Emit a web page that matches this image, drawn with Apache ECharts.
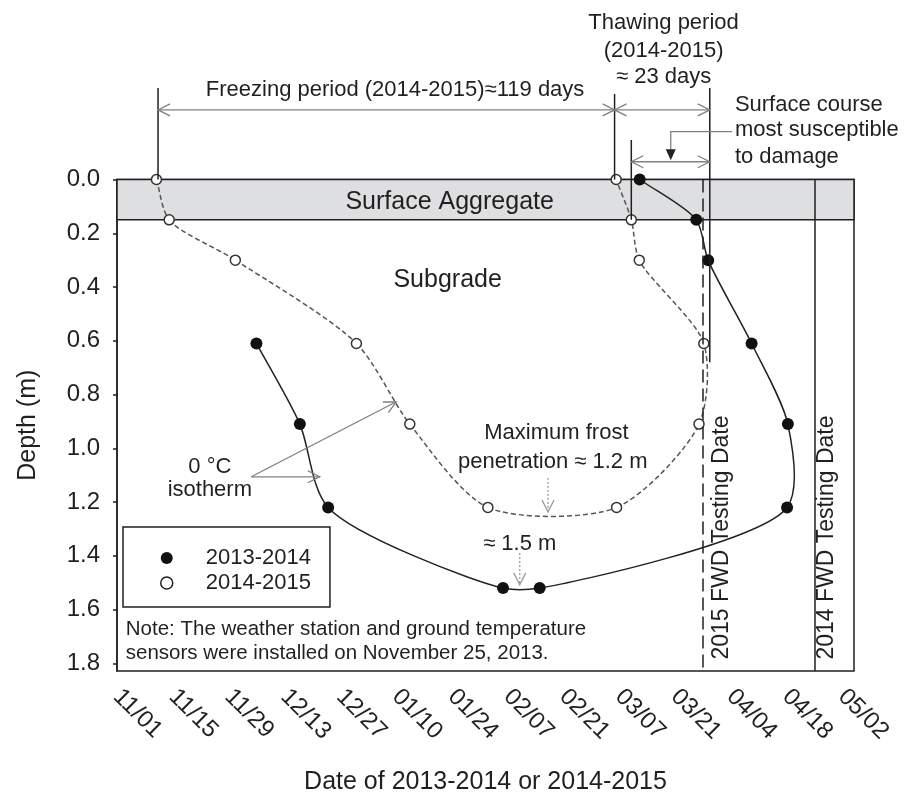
<!DOCTYPE html>
<html>
<head>
<meta charset="utf-8">
<script src="https://cdn.jsdelivr.net/npm/echarts@6/dist/echarts.min.js"></script>
<style>
  html, body { margin: 0; padding: 0; background: #fff; }
  #chart { width: 907px; height: 793px; }
</style>
</head>
<body>
<div id="chart"></div>
<script>
// Frost depth (0 °C isotherm) over the winter.
// x: days counted from 1 November, y: depth below the surface in metres.
const dateTicks = ['11/01', '11/15', '11/29', '12/13', '12/27', '01/10', '01/24',
                   '02/07', '02/21', '03/07', '03/21', '04/04', '04/18', '05/02'];
const depthTicks = [0.0, 0.2, 0.4, 0.6, 0.8, 1.0, 1.2, 1.4, 1.6, 1.8];

// 2013-2014 winter (sensors installed 25 Nov 2013)
const days1314 = [35.0, 45.9, 53.0, 96.9, 106.1, 168.2, 168.4, 159.3, 148.4, 145.4, 131.2];
const depth1314 = [0.61, 0.91, 1.22, 1.52, 1.52, 1.22, 0.91, 0.61, 0.30, 0.15, 0.00];

// 2014-2015 winter
const days1415 = [9.9, 13.1, 29.7, 60.1, 73.5, 93.1, 125.4, 146.1, 147.3, 131.1, 129.1, 125.3];
const depth1415 = [0.00, 0.15, 0.30, 0.61, 0.91, 1.22, 1.22, 0.91, 0.61, 0.30, 0.15, 0.00];

// Surface aggregate layer (m) and FWD testing dates (days from 1 Nov)
const aggregateLayer = [0.0, 0.15];
const fwdDay2015 = 147.1;
const fwdDay2014 = 175.1;

// Key dates of the 2014-2015 freeze / thaw cycle (days from 1 Nov)
const freezeStart = 10.3;
const thawStart = 124.9;
const thawEnd = 148.8;
const surfaceThaw = 129.1;

const FONT = "'Liberation Sans', Arial, sans-serif";
const INK = '#231f20';
const GREY = '#808080';

const weekTicks = [];
for (let d = 0; d <= 182; d += 7) weekTicks.push(d);
const labelDays = dateTicks.map((_, i) => i * 14);

// Centripetal Catmull-Rom segment i -> i+1 through screen points, as a cubic Bezier.
function splineSegment(pts, i, tension) {
  const n = pts.length;
  const p1 = pts[i], p2 = pts[i + 1];
  const p0 = i > 0 ? pts[i - 1] : [2 * p1[0] - p2[0], 2 * p1[1] - p2[1]];
  const p3 = i + 2 < n ? pts[i + 2] : [2 * p2[0] - p1[0], 2 * p2[1] - p1[1]];
  const knot = (a, b) => Math.max(Math.sqrt(Math.hypot(b[0] - a[0], b[1] - a[1])), 1e-6);
  const d01 = knot(p0, p1), d12 = knot(p1, p2), d23 = knot(p2, p3);
  const m1 = [0, 1].map(k => d12 * ((p1[k] - p0[k]) / d01 - (p2[k] - p0[k]) / (d01 + d12) + (p2[k] - p1[k]) / d12));
  const m2 = [0, 1].map(k => d12 * ((p2[k] - p1[k]) / d12 - (p3[k] - p1[k]) / (d12 + d23) + (p3[k] - p2[k]) / d23));
  return {
    x1: p1[0], y1: p1[1], x2: p2[0], y2: p2[1],
    cpx1: p1[0] + tension * m1[0] / 3, cpy1: p1[1] + tension * m1[1] / 3,
    cpx2: p2[0] - tension * m2[0] / 3, cpy2: p2[1] - tension * m2[1] / 3
  };
}
function curveRenderer(days, depths, lineStyle) {
  return function (params, api) {
    const i = params.dataIndex;
    if (i >= days.length - 1) return null;
    const pts = days.map((d, k) => api.coord([d, depths[k]]));
    return {
      type: 'bezierCurve',
      shape: splineSegment(pts, i, 0.8),
      style: Object.assign({ fill: null }, lineStyle)
    };
  };
}

const chart = echarts.init(document.getElementById('chart'), null, { renderer: 'canvas' });

const option = {
  animation: false,
  backgroundColor: '#fff',
  textStyle: { fontFamily: FONT, color: INK },
  grid: {
    left: 117, right: 53, top: 179.5, bottom: 122,
    containLabel: false, outerBoundsMode: 'none',
    show: true, borderColor: INK, borderWidth: 1.5, backgroundColor: 'transparent'
  },
  legend: {
    orient: 'vertical',
    left: 123, top: 527,
    padding: [20, 19, 13, 37],
    itemGap: 3,
    itemWidth: 68, itemHeight: 12,
    borderColor: INK, borderWidth: 1.5, backgroundColor: '#fff',
    selectedMode: false,
    textStyle: { fontSize: 22, color: INK, fontFamily: FONT },
    data: [
      { name: '2013-2014', icon: 'circle', itemStyle: { color: '#111' } },
      { name: '2014-2015', icon: 'circle', itemStyle: { color: '#fff', borderColor: '#222', borderWidth: 1.5 } }
    ]
  },
  xAxis: {
    type: 'value', min: 0, max: 185,
    name: 'Date of 2013-2014 or 2014-2015',
    nameLocation: 'middle', nameGap: 99,
    nameTextStyle: { fontSize: 25, color: INK, fontFamily: FONT },
    axisLine: { show: true, lineStyle: { color: INK, width: 1.5 } },
    axisTick: { show: true, length: 5, customValues: weekTicks, lineStyle: { color: INK, width: 1.5 } },
    axisLabel: {
      customValues: labelDays,
      formatter: v => dateTicks[Math.round(v / 14)],
      rotate: -45, align: 'left', verticalAlign: 'middle', margin: 22,
      fontSize: 24, color: INK, fontFamily: FONT
    },
    splitLine: { show: false }
  },
  yAxis: {
    type: 'value', inverse: true, min: 0, max: 1.8285,
    name: 'Depth (m)',
    nameLocation: 'middle', nameGap: 76, nameRotate: 90,
    nameTextStyle: { fontSize: 25, color: INK, fontFamily: FONT },
    axisLine: { show: true, lineStyle: { color: INK, width: 1.5 } },
    axisTick: { show: true, length: 4, customValues: depthTicks, lineStyle: { color: INK, width: 1.5 } },
    axisLabel: {
      customValues: depthTicks,
      formatter: v => v.toFixed(1),
      margin: 17, fontSize: 24, color: INK, fontFamily: FONT
    },
    splitLine: { show: false }
  },
  series: [
    {
      // reference layers: aggregate band and FWD testing dates
      type: 'line', name: 'layers', data: [], silent: true, z: 1,
      markArea: {
        silent: true,
        itemStyle: { color: '#dedfe1', borderColor: INK, borderWidth: 1.5 },
        data: [[{ yAxis: aggregateLayer[0] }, { yAxis: aggregateLayer[1] }]]
      },
      markLine: {
        silent: true, symbol: ['none', 'none'], label: { show: false },
        emphasis: { disabled: true },
        data: [
          { xAxis: fwdDay2015, lineStyle: { color: INK, width: 1.5, type: [13, 6] } },
          { xAxis: fwdDay2014, lineStyle: { color: INK, width: 1.5, type: 'solid' } }
        ]
      }
    },
    {
      // smooth isotherm curves
      type: 'custom', name: 'curve 2014-2015', coordinateSystem: 'cartesian2d', z: 2, silent: true,
      data: days1415.map((d, i) => [d, depth1415[i]]),
      renderItem: curveRenderer(days1415, depth1415, { stroke: '#555', lineWidth: 1.5, lineDash: [5, 3] })
    },
    {
      type: 'custom', name: 'curve 2013-2014', coordinateSystem: 'cartesian2d', z: 2, silent: true,
      data: days1314.map((d, i) => [d, depth1314[i]]),
      renderItem: curveRenderer(days1314, depth1314, { stroke: '#222', lineWidth: 1.5 })
    },
    {
      type: 'line', name: '2014-2015', z: 3,
      data: days1415.map((d, i) => [d, depth1415[i]]),
      symbol: 'circle', symbolSize: 10,
      itemStyle: { color: '#fff', borderColor: '#333', borderWidth: 1.5 },
      lineStyle: { opacity: 0 },
      emphasis: { disabled: true }
    },
    {
      type: 'line', name: '2013-2014', z: 4,
      data: days1314.map((d, i) => [d, depth1314[i]]),
      symbol: 'circle', symbolSize: 12,
      itemStyle: { color: '#111' },
      lineStyle: { opacity: 0 },
      emphasis: { disabled: true }
    }
  ]
};

chart.setOption(option);

// ---- annotations, placed in axis units through the grid's own scales ----
const P = (d, m) => chart.convertToPixel({ gridIndex: 0 }, [d, m]);
const G = [];

function seg(a, b, stroke, width, dash) {
  G.push({
    type: 'line', z: 50, silent: true,
    shape: { x1: a[0], y1: a[1], x2: b[0], y2: b[1] },
    style: { stroke: stroke, lineWidth: width, lineDash: dash || null }
  });
}
function chevron(tip, from, stroke) {
  const dx = tip[0] - from[0], dy = tip[1] - from[1];
  const len = Math.hypot(dx, dy), ux = dx / len, uy = dy / len;
  const L = 12, W = 6;
  const bx = tip[0] - ux * L, by = tip[1] - uy * L;
  G.push({
    type: 'polyline', z: 50, silent: true,
    shape: { points: [[bx - uy * W, by + ux * W], tip, [bx + uy * W, by - ux * W]] },
    style: { stroke: stroke, lineWidth: 1.3, fill: null }
  });
}
function arrow(a, b, stroke, dash, both) {
  seg(a, b, stroke, 1.3, dash);
  chevron(b, a, stroke);
  if (both) chevron(a, b, stroke);
}
function label(pos, str, size, align, rot) {
  G.push({
    type: 'text', z: 60, silent: true,
    x: pos[0], y: pos[1], rotation: rot || 0,
    style: {
      text: str, fontSize: size, fontFamily: FONT, fill: INK,
      align: align || 'center', verticalAlign: 'middle'
    }
  });
}

// period markers above the plot
seg(P(freezeStart, -0.34), P(freezeStart, 0), INK, 1.5);
seg(P(thawStart, -0.318), P(thawStart, 0), INK, 1.5);
seg(P(thawEnd, -0.34), P(thawEnd, 0.68), INK, 1.5);
seg(P(surfaceThaw, -0.147), P(surfaceThaw, 0.15), INK, 1.5);

arrow(P(freezeStart, -0.259), P(thawStart, -0.259), GREY, null, true);
arrow(P(thawStart, -0.259), P(thawEnd, -0.259), GREY, null, true);
arrow(P(surfaceThaw, -0.066), P(thawEnd, -0.066), GREY, null, true);

// leader from the "surface course" note
const lA = P(154.4, -0.178), lB = P(139, -0.178), lTip = P(139, -0.072);
G.push({
  type: 'polyline', z: 50, silent: true,
  shape: { points: [lA, lB, [lB[0], lTip[1] - 10]] },
  style: { stroke: GREY, lineWidth: 1.3, fill: null }
});
G.push({
  type: 'polygon', z: 50, silent: true,
  shape: { points: [[lTip[0] - 5, lTip[1] - 11], [lTip[0] + 5, lTip[1] - 11], lTip] },
  style: { fill: '#222' }
});

// 0 °C isotherm pointers
const iso = P(33.7, 1.106);
arrow(iso, P(70.1, 0.827), GREY);
arrow(iso, P(50.9, 1.106), GREY);

// maximum frost penetration pointers
arrow(P(108.2, 1.11), P(108.2, 1.237), '#9a9a9a', [2, 2]);
arrow(P(101.1, 1.39), P(101.1, 1.508), '#9a9a9a', [2, 2]);

// texts
label(P(69.8, -0.333), 'Freezing period (2014-2015)\u2248119 days', 22);
label(P(137.2, -0.582), 'Thawing period', 22);
label(P(137.2, -0.48), '(2014-2015)', 22);
label(P(137.2, -0.381), '\u2248 23 days', 22);
label(P(155.1, -0.277), 'Surface course', 22, 'left');
label(P(155.1, -0.184), 'most susceptible', 22, 'left');
label(P(155.1, -0.084), 'to damage', 22, 'left');
label(P(83.5, 0.083), 'Surface Aggregate', 25);
label(P(83.0, 0.374), 'Subgrade', 25);
label(P(23.3, 1.068), '0 \u00b0C', 22);
label(P(23.3, 1.155), 'isotherm', 22);
label(P(110.3, 0.943), 'Maximum frost', 22);
label(P(109.4, 1.051), 'penetration \u2248 1.2 m', 22);
label(P(101.1, 1.355), '\u2248 1.5 m', 22);
label(P(151.7, 1.332), '2015 FWD Testing Date', 23, 'center', Math.PI / 2);
label(P(178.1, 1.332), '2014 FWD Testing Date', 23, 'center', Math.PI / 2);
label(P(2.2, 1.673), 'Note: The weather station and ground temperature', 20.5, 'left');
label(P(2.2, 1.763), 'sensors were installed on November 25, 2013.', 20.5, 'left');

chart.setOption({ graphic: G });
</script>
</body>
</html>
